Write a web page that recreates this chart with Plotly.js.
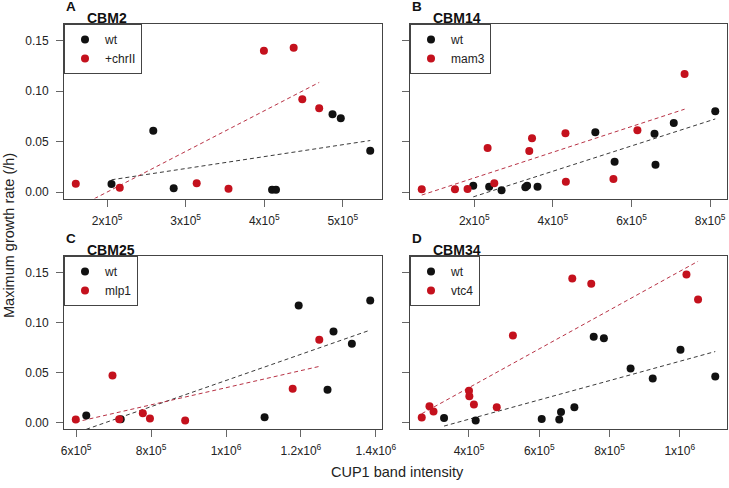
<!DOCTYPE html>
<html>
<head>
<meta charset="utf-8">
<script src="https://cdn.plot.ly/plotly-3.0.1.min.js"></script>
<style>html,body{margin:0;padding:0;background:#fff;}#chart{width:729px;height:488px;}</style>
</head>
<body>
<div id="chart"></div>
<script>
// ---- data ----
const A_wt_x = [2.055e5, 2.587e5, 2.847e5, 4.10e5, 4.15e5, 4.87e5, 4.975e5, 5.35e5];
const A_wt_y = [0.008, 0.0607, 0.0037, 0.0023, 0.0023, 0.077, 0.073, 0.041];
const A_mut_x = [1.60e5, 2.16e5, 3.14e5, 3.545e5, 3.996e5, 4.375e5, 4.485e5, 4.70e5];
const A_mut_y = [0.0083, 0.0043, 0.0087, 0.0033, 0.140, 0.143, 0.092, 0.083];

const B_wt_x = [1.975e5, 2.38e5, 2.695e5, 3.30e5, 3.345e5, 3.61e5, 5.08e5, 5.57e5, 6.585e5, 6.61e5, 7.075e5, 8.13e5];
const B_wt_y = [0.0063, 0.0053, 0.0017, 0.0047, 0.0063, 0.0053, 0.0593, 0.030, 0.0577, 0.027, 0.0683, 0.080];
const B_mut_x = [0.665e5, 1.51e5, 1.83e5, 2.34e5, 2.51e5, 3.40e5, 3.47e5, 4.32e5, 4.33e5, 5.54e5, 6.15e5, 7.35e5];
const B_mut_y = [0.0027, 0.0027, 0.003, 0.0437, 0.0087, 0.0407, 0.0533, 0.0583, 0.0103, 0.013, 0.0613, 0.117];

const C_wt_x = [6.27e5, 7.19e5, 11.03e5, 11.94e5, 12.71e5, 12.87e5, 13.36e5, 13.85e5];
const C_wt_y = [0.007, 0.0033, 0.0053, 0.117, 0.0327, 0.091, 0.0787, 0.122];
const C_mut_x = [5.99e5, 6.97e5, 7.15e5, 7.78e5, 7.97e5, 8.91e5, 11.78e5, 12.49e5];
const C_mut_y = [0.003, 0.047, 0.0033, 0.0093, 0.004, 0.002, 0.0337, 0.0827];

const D_wt_x = [3.29e5, 4.19e5, 6.07e5, 6.57e5, 6.62e5, 7.0e5, 7.55e5, 7.84e5, 8.6e5, 9.23e5, 10.02e5, 11.01e5];
const D_wt_y = [0.0047, 0.002, 0.0037, 0.003, 0.0107, 0.0153, 0.0857, 0.0843, 0.054, 0.044, 0.0727, 0.046];
const D_mut_x = [2.655e5, 2.875e5, 2.99e5, 4.0e5, 4.01e5, 4.14e5, 4.79e5, 5.25e5, 6.94e5, 7.48e5, 10.19e5, 10.52e5];
const D_mut_y = [0.005, 0.0163, 0.011, 0.0317, 0.0263, 0.018, 0.0153, 0.087, 0.144, 0.1387, 0.148, 0.123];

const panelLetters = ["A", "B", "C", "D"];
const panelTitles = ["CBM2", "CBM14", "CBM25", "CBM34"];
const mutantNames = ["+chrII", "mam3", "mlp1", "vtc4"];
const wtName = "wt";

const A_tickvals = [2e5, 3e5, 4e5, 5e5];
const A_ticktext = ["2x10<sup>5</sup>", "3x10<sup>5</sup>", "4x10<sup>5</sup>", "5x10<sup>5</sup>"];
const B_tickvals = [2e5, 4e5, 6e5, 8e5];
const B_ticktext = ["2x10<sup>5</sup>", "4x10<sup>5</sup>", "6x10<sup>5</sup>", "8x10<sup>5</sup>"];
const C_tickvals = [6e5, 8e5, 1e6, 1.2e6, 1.4e6];
const C_ticktext = ["6x10<sup>5</sup>", "8x10<sup>5</sup>", "1x10<sup>6</sup>", "1.2x10<sup>6</sup>", "1.4x10<sup>6</sup>"];
const D_tickvals = [4e5, 6e5, 8e5, 1e6];
const D_ticktext = ["4x10<sup>5</sup>", "6x10<sup>5</sup>", "8x10<sup>5</sup>", "1x10<sup>6</sup>"];

const y_tickvals = [0, 0.05, 0.10, 0.15];
const y_ticktext = ["0.00", "0.05", "0.10", "0.15"];
const y_limits = [0, 0.16];

const xTitle = "CUP1 band intensity";
const yTitle = "Maximum growth rate (/h)";

// ---- helpers ----
function fit(x, y) {
  const n = x.length;
  const mx = x.reduce((a, b) => a + b, 0) / n;
  const my = y.reduce((a, b) => a + b, 0) / n;
  let sxy = 0, sxx = 0;
  for (let i = 0; i < n; i++) { sxy += (x[i] - mx) * (y[i] - my); sxx += (x[i] - mx) ** 2; }
  const b = sxy / sxx, a = my - b * mx;
  const x0 = Math.min(...x), x1 = Math.max(...x);
  return { x: [x0, x1], y: [a + b * x0, a + b * x1] };
}
function pad(lo, hi) { const d = (hi - lo) * 0.04; return [lo - d, hi + d]; }

const BLACK = "#111111";
const RED = "#c4111d";
const FONT = "Liberation Sans, Arial, Helvetica, sans-serif";

const panels = [
  { wx: A_wt_x, wy: A_wt_y, mx: A_mut_x, my: A_mut_y, tv: A_tickvals, tt: A_ticktext, xd: [64, 382], yd: [24, 198.5], ylab: true },
  { wx: B_wt_x, wy: B_wt_y, mx: B_mut_x, my: B_mut_y, tv: B_tickvals, tt: B_ticktext, xd: [410, 727], yd: [24, 198.5], ylab: false },
  { wx: C_wt_x, wy: C_wt_y, mx: C_mut_x, my: C_mut_y, tv: C_tickvals, tt: C_ticktext, xd: [64, 382], yd: [256, 429], ylab: true },
  { wx: D_wt_x, wy: D_wt_y, mx: D_mut_x, my: D_mut_y, tv: D_tickvals, tt: D_ticktext, xd: [410, 727], yd: [256, 429], ylab: false }
];

const W = 729, H = 488;
const traces = [];
const layout = {
  width: W, height: H,
  margin: { l: 0, r: 0, t: 0, b: 0 },
  paper_bgcolor: "#ffffff", plot_bgcolor: "#ffffff",
  font: { family: FONT, size: 12, color: "#222" },
  showlegend: true,
  annotations: [], shapes: []
};

panels.forEach((p, i) => {
  const k = i === 0 ? "" : String(i + 1);
  const xa = "x" + k, ya = "y" + k;
  const leg = "legend" + k;
  const fw = fit(p.wx, p.wy), fm = fit(p.mx, p.my);
  traces.push({ x: fw.x, y: fw.y, xaxis: xa, yaxis: ya, mode: "lines", showlegend: false, hoverinfo: "skip",
    line: { color: "#3a3a3a", width: 1, dash: "4px,3px" } });
  traces.push({ x: fm.x, y: fm.y, xaxis: xa, yaxis: ya, mode: "lines", showlegend: false, hoverinfo: "skip",
    line: { color: "#b83245", width: 1, dash: "4px,3px" } });
  traces.push({ x: p.wx, y: p.wy, xaxis: xa, yaxis: ya, mode: "markers", name: wtName, legend: leg,
    marker: { color: BLACK, size: 8 } });
  traces.push({ x: p.mx, y: p.my, xaxis: xa, yaxis: ya, mode: "markers", name: mutantNames[i], legend: leg,
    marker: { color: RED, size: 8 } });

  const allx = p.wx.concat(p.mx);
  const xr = pad(Math.min(...allx), Math.max(...allx));
  const yr = pad(y_limits[0], y_limits[1]);
  const xdom = [p.xd[0] / W, p.xd[1] / W];
  const ydom = [1 - p.yd[1] / H, 1 - p.yd[0] / H];

  layout["xaxis" + k] = {
    domain: xdom, anchor: ya, range: xr, showgrid: false, zeroline: false,
    showline: true, mirror: true, linecolor: "#444", linewidth: 1,
    ticks: "outside", ticklen: 7, tickcolor: "#666", tickwidth: 1,
    tickmode: "array", tickvals: p.tv, ticktext: p.tt, ticklabelstandoff: 4,
    tickfont: { family: FONT, size: 12, color: "#222" }, fixedrange: true
  };
  layout["yaxis" + k] = {
    domain: ydom, anchor: xa, range: yr, showgrid: false, zeroline: false,
    showline: true, mirror: true, linecolor: "#444", linewidth: 1,
    ticks: "outside", ticklen: 7, tickcolor: "#666", tickwidth: 1,
    tickmode: "array", tickvals: y_tickvals, ticktext: y_ticktext, showticklabels: p.ylab,
    ticklabelstandoff: 5,
    tickfont: { family: FONT, size: 12, color: "#222" }, fixedrange: true
  };
  layout[leg] = {
    x: xdom[0], y: ydom[1], xanchor: "left", yanchor: "top", xref: "paper", yref: "paper",
    bgcolor: "#ffffff", bordercolor: "#444", borderwidth: 1,
    font: { family: FONT, size: 12, color: "#222" }, itemwidth: 30, tracegroupgap: 0
  };
  layout.annotations.push({ text: "<b>" + panelLetters[i] + "</b>", xref: "paper", yref: "paper",
    x: p.xd[0] / W, y: 1 - (p.yd[0] - 17.5) / H, xanchor: "left", yanchor: "middle", showarrow: false,
    font: { family: FONT, size: 13.5, color: "#111" } });
  layout.annotations.push({ text: "<b>" + panelTitles[i] + "</b>", xref: "paper", yref: "paper",
    x: (p.xd[0] + 21) / W, y: 1 - (p.yd[0] - 5.5) / H, xanchor: "left", yanchor: "middle", showarrow: false,
    font: { family: FONT, size: 14, color: "#111" } });
});

layout.annotations.push({ text: xTitle, xref: "paper", yref: "paper", x: 397 / W, y: 1 - 472 / H,
  xanchor: "center", yanchor: "middle", showarrow: false, font: { family: FONT, size: 14.5, color: "#222" } });
layout.annotations.push({ text: yTitle, xref: "paper", yref: "paper", x: 9 / W, y: 1 - 236 / H, textangle: -90,
  xanchor: "center", yanchor: "middle", showarrow: false, font: { family: FONT, size: 14.5, color: "#222" } });

Plotly.newPlot("chart", traces, layout, { staticPlot: true, displayModeBar: false });
</script>
</body>
</html>
